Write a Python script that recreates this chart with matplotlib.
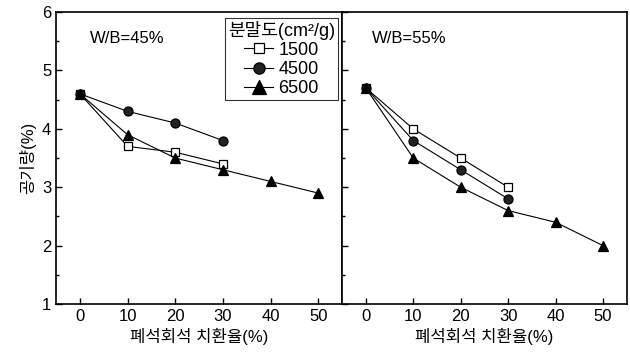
import matplotlib
matplotlib.use("Agg")
import matplotlib.pyplot as plt
from matplotlib.ticker import MultipleLocator

plt.rcParams['font.family'] = ['Liberation Sans', 'Noto Sans CJK KR', 'DejaVu Sans']

replacement = [0, 10, 20, 30, 40, 50]
fineness_labels = ["1500", "4500", "6500"]

# W/B = 45 %
wb45_1500 = [4.6, 3.7, 3.6, 3.4]
wb45_4500 = [4.6, 4.3, 4.1, 3.8]
wb45_6500 = [4.6, 3.9, 3.5, 3.3, 3.1, 2.9]

# W/B = 55 %
wb55_1500 = [4.7, 4.0, 3.5, 3.0]
wb55_4500 = [4.7, 3.8, 3.3, 2.8]
wb55_6500 = [4.7, 3.5, 3.0, 2.6, 2.4, 2.0]

panels = [
    ("W/B=45%", 0.12, [wb45_1500, wb45_4500, wb45_6500]),
    ("W/B=55%", 0.105, [wb55_1500, wb55_4500, wb55_6500]),
]

styles = [
    dict(marker="s", mfc="white", mec="black", ms=6, mew=0.9),
    dict(marker="o", mfc="#222222", mec="black", ms=6.5, mew=0.9),
    dict(marker="^", mfc="black", mec="black", ms=7.5, mew=0.9),
]

fig = plt.figure(figsize=(6.3, 3.56), dpi=100)
ax1 = fig.add_axes([0.089, 0.146, 0.454, 0.820])
ax2 = fig.add_axes([0.543, 0.146, 0.452, 0.820], sharey=ax1)

for ax, (title, tx, series) in zip([ax1, ax2], panels):
    for vals, st, lab in zip(series, styles, fineness_labels):
        ax.plot(replacement[:len(vals)], vals, color="black", lw=0.8,
                label=lab, **st)
    ax.set_xlim(-5, 55)
    ax.set_ylim(1, 6)
    ax.set_xticks(replacement)
    ax.yaxis.set_major_locator(MultipleLocator(1))
    ax.yaxis.set_minor_locator(MultipleLocator(0.5))
    ax.tick_params(direction="in", which="both", labelsize=12, width=1)
    ax.tick_params(which="major", length=4)
    ax.tick_params(which="minor", length=2.5)
    for s in ax.spines.values():
        s.set_linewidth(1.2)
    ax.text(tx, 0.91, title, transform=ax.transAxes, fontsize=12,
            ha="left", va="center")
    ax.set_xlabel("폐석회석 치환율(%)", fontsize=12, labelpad=3)

ax2.tick_params(axis="y", labelleft=False)
ax1.set_ylabel("공기량(%)", fontsize=12, labelpad=4)

leg = ax1.legend(handles=ax1.get_lines(), title="분말도(cm²/g)",
                 loc="upper right", bbox_to_anchor=(0.985, 0.98),
                 fontsize=13, title_fontsize=13, frameon=True, fancybox=False,
                 edgecolor="black", borderpad=0.15, labelspacing=0.12,
                 handlelength=1.6, handletextpad=0.3, borderaxespad=0.0,
                 markerscale=1.25)
leg.get_frame().set_linewidth(0.8)

fig.savefig("out.png", dpi=100)
